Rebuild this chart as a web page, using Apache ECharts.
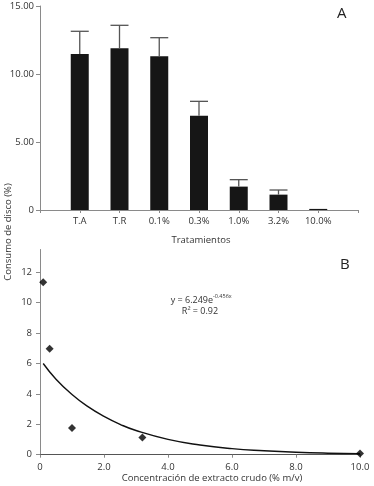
<!DOCTYPE html>
<html><head><meta charset="utf-8">
<script src="https://cdn.jsdelivr.net/npm/echarts@6/dist/echarts.min.js"></script>
<style>html,body{margin:0;padding:0;background:#fff}#c{width:374px;height:486px}</style>
</head><body><div id="c"></div>
<script>
// Panel A
var categories = ['T.A', 'T.R', '0.1%', '0.3%', '1.0%', '3.2%', '10.0%'];
var consumo = [11.47, 11.89, 11.30, 6.93, 1.72, 1.13, 0.08];
var errorTop = [13.14, 13.58, 12.67, 7.99, 2.23, 1.47, null];
var yTicksA = [0, 5, 10, 15];
// Panel B
var concentracion = [0.1, 0.3, 1.0, 3.2, 10.0];
var consumoB = [11.34, 6.97, 1.76, 1.13, 0.08];
var trendX = [0.1, 0.5, 1, 1.5, 2, 2.5, 3, 4, 5, 6, 7, 8, 9, 10];
var trendY = [6.0, 4.97, 3.96, 3.16, 2.52, 2.0, 1.59, 1.01, 0.64, 0.40, 0.26, 0.16, 0.10, 0.07];
var yTicksB = [0, 2, 4, 6, 8, 10, 12];
var xTicksB = [0, 2, 4, 6, 8, 10];

var FONT = 'Open Sans';
var axisCol = '#8a8a8a';
var txtCol = '#333';

var catAxis = [''].concat(categories).concat(['']);
var barData = ['-'].concat(consumo).concat(['-']);
var errData = [];
for (var i = 0; i < categories.length; i++) {
  if (errorTop[i] != null) errData.push([i + 1, consumo[i], errorTop[i]]);
}
var scatterData = concentracion.map(function (x, i) { return [x, consumoB[i]]; });
var trendData = trendX.map(function (x, i) { return [x, trendY[i]]; });

var chart = echarts.init(document.getElementById('c'), null, {renderer: 'canvas'});
chart.setOption({
  animation: false,
  backgroundColor: '#fff',
  textStyle: {fontFamily: FONT},
  grid: [
    {left: 40, right: 16, top: 6, height: 204},
    {left: 40, right: 14, top: 249.5, height: 205.2}
  ],
  xAxis: [
    {
      gridIndex: 0, type: 'category', data: catAxis, boundaryGap: false,
      axisLine: {lineStyle: {color: axisCol, width: 1}},
      axisTick: {show: true, length: 3, lineStyle: {color: axisCol}},
      axisLabel: {color: txtCol, fontSize: 9.5, fontFamily: FONT, margin: 6, interval: 0}
    },
    {
      gridIndex: 1, type: 'value', min: 0, max: 10, interval: 2,
      splitLine: {show: false},
      axisLine: {lineStyle: {color: '#555', width: 1.2}},
      axisTick: {show: true, length: 3, lineStyle: {color: axisCol}},
      axisLabel: {color: txtCol, fontSize: 9.5, fontFamily: FONT, margin: 8,
        formatter: function (v) { return v === 0 ? '0' : v.toFixed(1); }}
    }
  ],
  yAxis: [
    {
      gridIndex: 0, type: 'value', min: 0, max: 15, interval: 5,
      splitLine: {show: false},
      axisLine: {show: true, lineStyle: {color: axisCol, width: 1}},
      axisTick: {show: true, length: 4, lineStyle: {color: axisCol}},
      axisLabel: {color: txtCol, fontSize: 9.5, fontFamily: FONT, margin: 6,
        formatter: function (v) { return v === 0 ? '0' : v.toFixed(2); }}
    },
    {
      gridIndex: 1, type: 'value', min: 0, max: 13.5,
      splitLine: {show: false},
      axisLine: {show: true, lineStyle: {color: axisCol, width: 1}},
      axisTick: {show: true, length: 4, lineStyle: {color: axisCol}, customValues: yTicksB},
      axisLabel: {color: txtCol, fontSize: 9.5, fontFamily: FONT, margin: 8, customValues: yTicksB}
    }
  ],
  series: [
    {
      type: 'bar', xAxisIndex: 0, yAxisIndex: 0, data: barData, barWidth: 18,
      itemStyle: {color: '#161616'}, z: 2
    },
    {
      type: 'custom', xAxisIndex: 0, yAxisIndex: 0, data: errData, z: 3,
      renderItem: function (params, api) {
        var x = api.value(0);
        var p0 = api.coord([x, api.value(1)]);
        var p1 = api.coord([x, api.value(2)]);
        var hw = 9;
        var st = {stroke: '#555', lineWidth: 1.3};
        return {type: 'group', children: [
          {type: 'line', shape: {x1: p0[0], y1: p0[1], x2: p1[0], y2: p1[1]}, style: st},
          {type: 'line', shape: {x1: p1[0] - hw, y1: p1[1], x2: p1[0] + hw, y2: p1[1]}, style: st}
        ]};
      }
    },
    {
      type: 'line', xAxisIndex: 1, yAxisIndex: 1, data: trendData, smooth: true,
      showSymbol: false, lineStyle: {color: '#111', width: 1.4}, z: 2
    },
    {
      type: 'scatter', xAxisIndex: 1, yAxisIndex: 1, data: scatterData,
      symbol: 'diamond', symbolSize: 8, itemStyle: {color: '#000'}, clip: false, z: 3
    }
  ],
  graphic: [
    {type: 'text', left: 337, top: 6, style: {text: 'A', fontSize: 15, fontFamily: FONT, fill: '#222'}},
    {type: 'text', left: 340, top: 257, style: {text: 'B', fontSize: 15, fontFamily: FONT, fill: '#222'}},
    {type: 'text', x: 201, y: 240, style: {text: 'Tratamientos', fontSize: 9.5, fontFamily: FONT, fill: txtCol, align: 'center', verticalAlign: 'middle'}},
    {type: 'text', x: 212, y: 478, style: {text: 'Concentración de extracto crudo (% m/v)', fontSize: 9.5, fontFamily: FONT, fill: txtCol, align: 'center', verticalAlign: 'middle'}},
    {type: 'text', x: 8, y: 232, rotation: Math.PI / 2, style: {text: 'Consumo de disco (%)', fontSize: 9.5, fontFamily: FONT, fill: txtCol, align: 'center', verticalAlign: 'middle'}},
    {type: 'text', x: 213, y: 300, style: {text: 'y = 6.249e', fontSize: 9, fontFamily: FONT, fill: txtCol, align: 'right', verticalAlign: 'middle'}},
    {type: 'text', x: 213, y: 296, style: {text: '-0.456x', fontSize: 5.5, fontFamily: FONT, fill: txtCol, align: 'left', verticalAlign: 'middle'}},
    {type: 'text', x: 200, y: 311, style: {text: 'R² = 0.92', fontSize: 9, fontFamily: FONT, fill: txtCol, align: 'center', verticalAlign: 'middle'}}
  ]
});
</script>
</body></html>
